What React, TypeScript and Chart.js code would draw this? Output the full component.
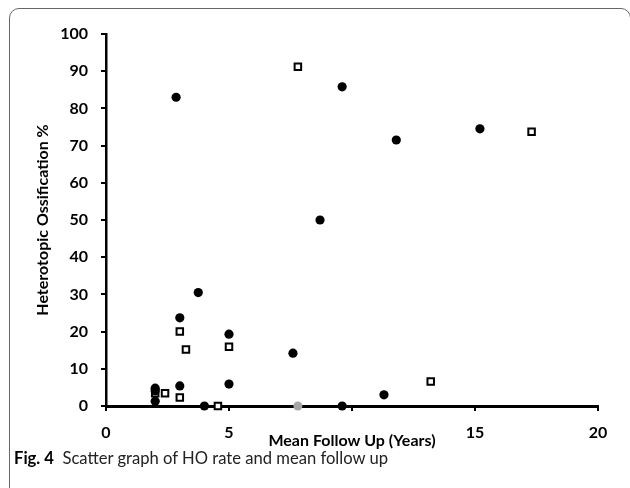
import React, { useEffect, useRef } from "react";
import { Chart, registerables } from "chart.js";

Chart.register(...registerables);

const xTicks = [0, 5, 10, 15, 20];
const yTicks = [0, 10, 20, 30, 40, 50, 60, 70, 80, 90, 100];

const circleX = [2.85, 9.6, 11.8, 15.2, 8.7, 7.6, 11.3, 9.6, 3.75, 3.0, 5.0, 5.0, 3.0, 2.0, 2.0, 2.0, 4.0];
const circleY = [83, 85.8, 71.5, 74.5, 50, 14.2, 3, 0, 30.5, 23.7, 19.3, 5.9, 5.4, 4.8, 4.1, 1.3, 0];

const squareX = [7.8, 17.3, 13.2, 3.0, 3.25, 5.0, 3.0, 2.0, 2.4, 4.55];
const squareY = [91.2, 73.7, 6.6, 20, 15.2, 15.9, 2.3, 3.4, 3.4, 0];

const grayX = [7.8];
const grayY = [0];

const xTitle = "Mean Follow Up (Years)";
const yTitle = "Heterotopic Ossification %";
const hiddenXTick = 10;

const toPoints = (xs: number[], ys: number[]) => xs.map((x, i) => ({ x, y: ys[i] }));

export default function App() {
  const ref = useRef<HTMLCanvasElement | null>(null);

  useEffect(() => {
    if (!ref.current) return;
    const font = { family: "Lato", size: 16, weight: "bold" as const };
    const chart = new Chart(ref.current, {
      type: "scatter",
      data: {
        datasets: [
          {
            data: toPoints(grayX, grayY),
            pointStyle: "circle",
            pointRadius: 4.5,
            backgroundColor: "#a6a6a6",
            borderColor: "#a6a6a6",
            borderWidth: 0,
            clip: false as any,
          },
          {
            data: toPoints(circleX, circleY),
            pointStyle: "circle",
            pointRadius: 4.6,
            backgroundColor: "#000",
            borderColor: "#000",
            borderWidth: 0,
            clip: false as any,
          },
          {
            data: toPoints(squareX, squareY),
            pointStyle: "rect",
            pointRadius: 4.6,
            backgroundColor: "#fff",
            borderColor: "#000",
            borderWidth: 2,
            clip: false as any,
          },
        ],
      },
      options: {
        responsive: false,
        animation: false,
        events: [],
        layout: { padding: { left: 0, top: 34, right: 32, bottom: 0 } },
        plugins: { legend: { display: false }, tooltip: { enabled: false } },
        scales: {
          x: {
            type: "linear",
            min: 0,
            max: 20,
            afterBuildTicks: (s: any) => {
              s.ticks = xTicks.map((v) => ({ value: v }));
            },
            afterFit: (s: any) => {
              s.height = 82;
            },
            ticks: {
              color: "#000",
              font,
              padding: 12,
              maxRotation: 0,
              autoSkip: false,
              callback: (v: any) => (v === hiddenXTick ? "" : String(v)),
            },
            grid: { drawOnChartArea: false, drawTicks: true, tickLength: 5, color: "#000", lineWidth: 2 },
            border: { display: true, color: "#000", width: 3 },
            title: {
              display: true,
              text: xTitle,
              color: "#000",
              font,
              padding: { top: 0, bottom: 38 },
            },
          },
          y: {
            type: "linear",
            min: 0,
            max: 100,
            afterBuildTicks: (s: any) => {
              s.ticks = yTicks.map((v) => ({ value: v }));
            },
            afterFit: (s: any) => {
              s.width = 106;
            },
            ticks: { color: "#000", font, padding: 13, autoSkip: false },
            grid: { drawOnChartArea: false, drawTicks: true, tickLength: 5, color: "#000", lineWidth: 2 },
            border: { display: true, color: "#000", width: 2.5 },
            title: {
              display: true,
              text: yTitle,
              color: "#000",
              font,
              padding: { top: 33, bottom: 0 },
            },
          },
        },
      },
    });
    return () => chart.destroy();
  }, []);

  return (
    <div
      style={{
        position: "absolute",
        left: 0,
        top: 0,
        width: 630,
        height: 488,
        overflow: "hidden",
        background: "#fff",
      }}
    >
      <div
        style={{
          position: "absolute",
          left: 9,
          top: 8,
          width: 622,
          height: 520,
          border: "1.5px solid #666",
          borderRadius: 10,
          boxSizing: "border-box",
        }}
      />
      <canvas ref={ref} width={630} height={488} style={{ position: "absolute", left: 0, top: 0 }} />
      <div
        style={{
          position: "absolute",
          left: 14,
          top: 447,
          fontFamily: "Lato, 'Open Sans', sans-serif",
          fontSize: 16.6,
          lineHeight: "22px",
          color: "#222",
          whiteSpace: "nowrap",
        }}
      >
        <b style={{ color: "#000" }}>Fig. 4</b>
        <span>&nbsp; Scatter graph of HO rate and mean follow up</span>
      </div>
    </div>
  );
}
